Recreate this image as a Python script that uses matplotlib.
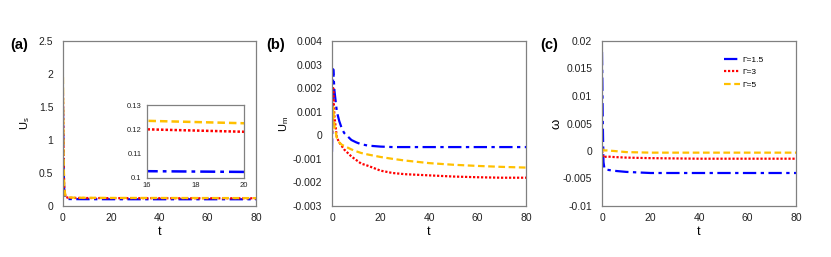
import matplotlib
matplotlib.use("Agg")
import matplotlib.pyplot as plt

plt.rcParams['font.family'] = ['Liberation Sans', 'DejaVu Sans']

# panel (a): U_s
t_a = [0, 0.25, 0.5, 1, 2, 5, 10, 16, 20, 40, 60, 80]
us_g15 = [1.5, 0.6, 0.25, 0.12, 0.106, 0.104, 0.1032, 0.1028, 0.1025, 0.102, 0.102, 0.102]
us_g3 = [1.7, 0.7, 0.28, 0.14, 0.126, 0.122, 0.1208, 0.120, 0.119, 0.118, 0.117, 0.117]
us_g5 = [1.95, 0.8, 0.3, 0.15, 0.131, 0.126, 0.1245, 0.1235, 0.1225, 0.122, 0.121, 0.12]

# panel (b): U_m
t_b = [0, 0.5, 1, 2, 3, 4, 5, 6, 8, 10, 12, 15, 20, 25, 30, 40, 50, 60, 70, 80]
um_g15 = [-0.0007, 0.0028, 0.0019, 0.001, 0.0006, 0.0003, 0.0001, 0.0, -0.0002, -0.0003,
          -0.00038, -0.00044, -0.00048, -0.0005, -0.0005, -0.0005, -0.0005, -0.0005, -0.0005, -0.0005]
um_g3 = [0.0001, 0.002, 0.0008, -0.0001, -0.0003, -0.00045, -0.0006, -0.0007, -0.0009, -0.00105,
         -0.0012, -0.0013, -0.0015, -0.0016, -0.00165, -0.0017, -0.00175, -0.00178, -0.0018, -0.0018]
um_g5 = [0.0001, 0.0012, 0.0004, -0.0001, -0.0003, -0.0004, -0.00045, -0.0005, -0.0006, -0.00068,
         -0.00075, -0.00082, -0.00092, -0.001, -0.00107, -0.00118, -0.00125, -0.0013, -0.00134, -0.00137]

# panel (c): omega
t_c = [0, 0.3, 0.6, 1, 2, 5, 10, 20, 40, 60, 80]
w_g15 = [0.018, 0.006, -0.002, -0.0032, -0.0034, -0.0036, -0.0038, -0.004, -0.004, -0.004, -0.004]
w_g3 = [0.0, -0.0008, -0.0012, -0.0011, -0.001, -0.0011, -0.0012, -0.0013, -0.0014, -0.0014, -0.0014]
w_g5 = [0.0005, 0.0003, 0.0001, 0.0001, 0.0001, 0.0, -0.0002, -0.0003, -0.0003, -0.0003, -0.0003]

labels = ['Γ=1.5', 'Γ=3', 'Γ=5']
colors = ['#0000FF', '#FF0000', '#FFC000']
styles = [(0, (6, 2, 1.5, 2)), (0, (1, 0.8)), (0, (3, 1.6))]

W, H = 831, 257
fig = plt.figure(figsize=(W / 100, H / 100), dpi=100)


def make_ax(x0, x1, y0, y1):
    return fig.add_axes([x0 / W, 1 - y1 / H, (x1 - x0) / W, (y1 - y0) / H])


def style_ax(ax, fs=7.5, xpad=5, ypad=7):
    for s in ax.spines.values():
        s.set_color('#808080')
        s.set_linewidth(0.9)
    ax.tick_params(length=0, labelsize=fs, colors='#222222')
    ax.tick_params(axis='x', pad=xpad)
    ax.tick_params(axis='y', pad=ypad)


axes = [make_ax(63, 256, 41, 206), make_ax(332, 526, 41, 206), make_ax(602, 796, 41, 206)]
data = [(t_a, [us_g15, us_g3, us_g5]), (t_b, [um_g15, um_g3, um_g5]), (t_c, [w_g15, w_g3, w_g5])]

for ax, (t, ys) in zip(axes, data):
    for y, c, ls, lab in zip(ys, colors, styles, labels):
        ax.plot(t, y, color=c, linestyle=ls, linewidth=1.6, label=lab)
    style_ax(ax)
    ax.set_xlim(0, 80)
    ax.set_xticks([0, 20, 40, 60, 80])
    ax.set_xlabel('t', fontsize=9, labelpad=2)

ax = axes[0]
ax.set_ylim(0, 2.5)
ax.set_yticks([0, 0.5, 1, 1.5, 2, 2.5])
ax.set_yticklabels(['0', '0.5', '1', '1.5', '2', '2.5'])
ax.set_ylabel(r'U$_\mathregular{s}$', fontsize=8, labelpad=5)

ax = axes[1]
ax.set_ylim(-0.003, 0.004)
yt = [-0.003, -0.002, -0.001, 0, 0.001, 0.002, 0.003, 0.004]
ax.set_yticks(yt)
ax.set_yticklabels(['-0.003', '-0.002', '-0.001', '0', '0.001', '0.002', '0.003', '0.004'])
ax.set_ylabel(r'U$_\mathregular{m}$', fontsize=8, labelpad=1)

ax = axes[2]
ax.set_ylim(-0.01, 0.02)
yt = [-0.01, -0.005, 0, 0.005, 0.01, 0.015, 0.02]
ax.set_yticks(yt)
ax.set_yticklabels(['-0.01', '-0.005', '0', '0.005', '0.01', '0.015', '0.02'])
fig.text(556 / W, 1 - 124 / H, 'ω', fontsize=9.5, rotation=90, ha='center', va='center')
ax.legend(loc='upper left', bbox_to_anchor=(0.628, 0.91), frameon=False, fontsize=6,
          handlelength=1.9, labelspacing=0.55, handletextpad=0.35, borderpad=0, borderaxespad=0)

# inset in panel (a)
ins = make_ax(147, 244, 105, 178)
for y, c, ls in zip([us_g15, us_g3, us_g5], colors, styles):
    ins.plot(t_a, y, color=c, linestyle=ls, linewidth=1.8)
style_ax(ins, fs=5.5, xpad=3, ypad=4)
ins.set_xlim(16, 20)
ins.set_ylim(0.1, 0.13)
ins.set_xticks([16, 18, 20])
ins.set_yticks([0.1, 0.11, 0.12, 0.13])
ins.set_yticklabels(['0.1', '0.11', '0.12', '0.13'])
ins.set_facecolor('white')

for txt, x in [('(a)', 10), ('(b)', 266), ('(c)', 540)]:
    fig.text(x / W, 1 - 45 / H, txt, fontsize=10.5, fontweight='bold', va='center', ha='left')

fig.savefig('out.png', dpi=100)
